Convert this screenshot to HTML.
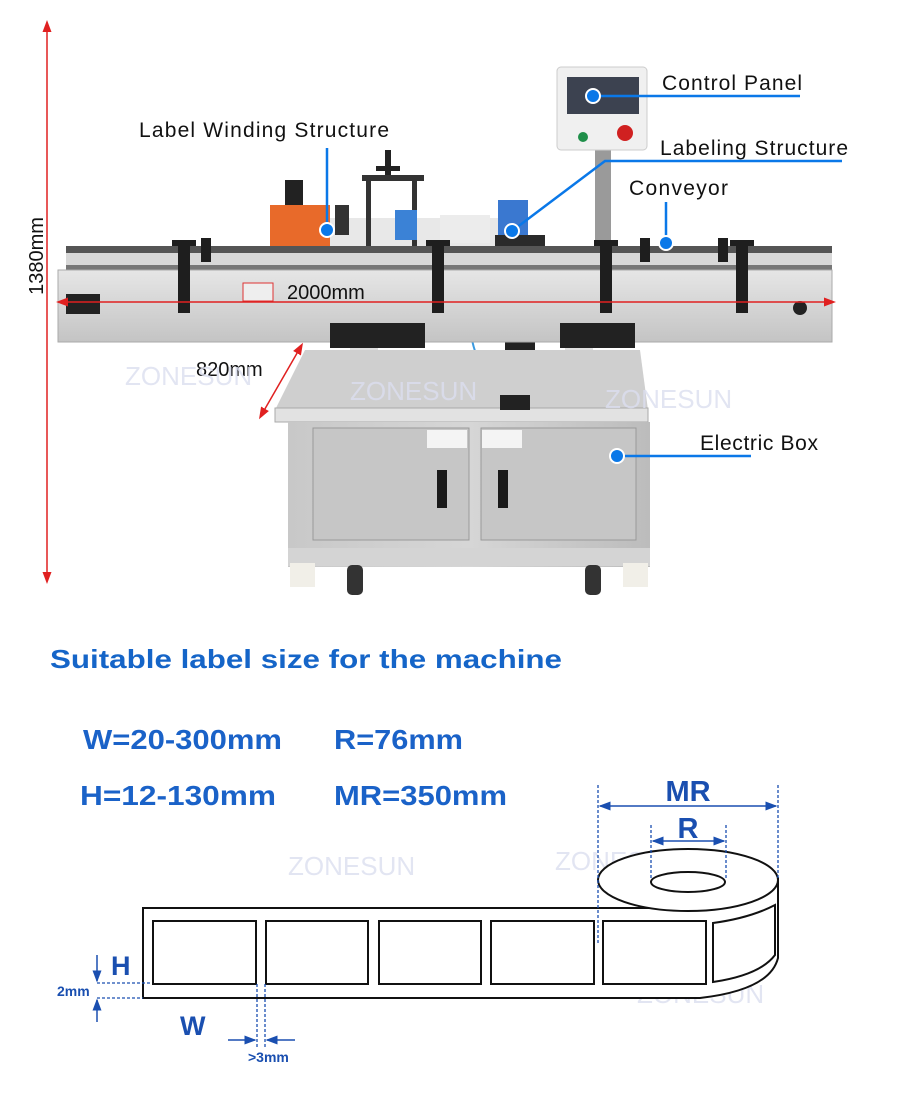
<!DOCTYPE html>
<html><head><meta charset="utf-8"><style>
html,body{margin:0;padding:0;background:#fff;}
svg{display:block;}
text{font-family:"Liberation Sans",sans-serif;}
</style></head><body>
<svg width="900" height="1093" viewBox="0 0 900 1093" xmlns="http://www.w3.org/2000/svg">
<defs>
<linearGradient id="steel" x1="0" y1="0" x2="0" y2="1"><stop offset="0" stop-color="#e6e6e6"/><stop offset="1" stop-color="#c4c4c4"/></linearGradient>
<linearGradient id="cab" x1="0" y1="0" x2="1" y2="0"><stop offset="0" stop-color="#c8c8c8"/><stop offset="0.5" stop-color="#d6d6d6"/><stop offset="1" stop-color="#bcbcbc"/></linearGradient>
<marker id="ra" markerWidth="8" markerHeight="8" refX="4" refY="4" orient="auto-start-reverse"><path d="M0,1 L8,4 L0,7Z" fill="#e02020"/></marker>
<marker id="ba" markerWidth="8" markerHeight="8" refX="7" refY="4" orient="auto-start-reverse"><path d="M0,1 L8,4 L0,7Z" fill="#1a4fb0"/></marker>
</defs>

<!-- winding structure -->
<rect x="270" y="205" width="60" height="42" fill="#e86a2a"/>
<rect x="285" y="180" width="18" height="25" fill="#222"/>
<rect x="330" y="218" width="170" height="30" fill="#e8e8e8"/>
<rect x="362" y="175" width="62" height="6" fill="#333"/>
<rect x="366" y="180" width="5" height="70" fill="#333"/>
<rect x="412" y="180" width="5" height="70" fill="#333"/>
<rect x="385" y="150" width="6" height="25" fill="#222"/>
<rect x="376" y="166" width="24" height="5" fill="#222"/>
<rect x="395" y="210" width="22" height="30" fill="#3b82d6"/>
<rect x="335" y="205" width="14" height="30" fill="#333"/>
<rect x="440" y="215" width="50" height="28" fill="#ececec"/>
<!-- labeling head -->
<rect x="498" y="200" width="30" height="35" fill="#3a78d0"/>
<rect x="495" y="235" width="50" height="60" fill="#2a2a2a"/>
<rect x="502" y="248" width="30" height="16" fill="#ddd"/>
<rect x="520" y="290" width="10" height="130" fill="#333"/>
<circle cx="545" cy="322" r="15" fill="#222"/><circle cx="545" cy="322" r="6" fill="#ccc"/>
<rect x="505" y="330" width="30" height="35" fill="#222"/>
<path d="M510 250 Q460 270 470 330 Q480 390 520 395" stroke="#3a9ae0" stroke-width="2" fill="none"/>
<!-- control panel -->
<rect x="595" y="148" width="16" height="105" fill="#9a9a9a"/>
<rect x="557" y="67" width="90" height="83" rx="4" fill="#f0f0f0" stroke="#ccc"/>
<rect x="567" y="77" width="72" height="37" fill="#3c4250"/>
<circle cx="583" cy="137" r="5" fill="#1f8f4a"/><circle cx="625" cy="133" r="8" fill="#d02020"/>
<!-- rails -->
<rect x="66" y="246" width="766" height="7" fill="#555"/>
<rect x="66" y="253" width="766" height="12" fill="#d8d8d8"/>
<rect x="66" y="265" width="766" height="6" fill="#777"/>
<!-- conveyor body -->
<rect x="58" y="270" width="774" height="72" fill="url(#steel)" stroke="#aaa"/>
<rect x="66" y="294" width="34" height="20" fill="#222"/>
<circle cx="800" cy="308" r="7" fill="#222"/>
<rect x="243" y="283" width="30" height="18" fill="#eee" stroke="#d33"/>
<!-- brackets -->
<g fill="#1e1e1e">
<rect x="178" y="245" width="12" height="68"/><rect x="172" y="240" width="24" height="6"/>
<rect x="432" y="245" width="12" height="68"/><rect x="426" y="240" width="24" height="6"/>
<rect x="600" y="245" width="12" height="68"/><rect x="594" y="240" width="24" height="6"/>
<rect x="736" y="245" width="12" height="68"/><rect x="730" y="240" width="24" height="6"/>
<rect x="201" y="238" width="10" height="24"/><rect x="718" y="238" width="10" height="24"/>
<rect x="640" y="238" width="10" height="24"/>
</g>
<!-- supports -->
<rect x="330" y="323" width="95" height="25" fill="#222"/>
<rect x="560" y="323" width="75" height="25" fill="#222"/>
<rect x="350" y="348" width="28" height="45" fill="#e0e0e0"/>
<rect x="565" y="348" width="28" height="45" fill="#e0e0e0"/>
<!-- table top -->
<path d="M305 350 L640 350 L648 410 L275 410 Z" fill="#cfcfcf"/>
<rect x="275" y="408" width="373" height="14" fill="#e2e2e2" stroke="#aaa"/>
<rect x="500" y="395" width="30" height="15" fill="#222"/>
<!-- cabinet -->
<rect x="288" y="422" width="362" height="145" fill="url(#cab)"/>
<rect x="313" y="428" width="156" height="112" fill="#c6c6c6" stroke="#999"/>
<rect x="481" y="428" width="155" height="112" fill="#c6c6c6" stroke="#999"/>
<rect x="437" y="470" width="10" height="38" fill="#1a1a1a"/>
<rect x="498" y="470" width="10" height="38" fill="#1a1a1a"/>
<rect x="427" y="430" width="40" height="18" fill="#f4f4f4"/>
<rect x="482" y="430" width="40" height="18" fill="#f4f4f4"/>
<rect x="288" y="548" width="362" height="18" fill="#d4d4d4"/>
<rect x="290" y="563" width="25" height="24" fill="#f1efe8"/><rect x="623" y="563" width="25" height="24" fill="#f1efe8"/>
<rect x="347" y="565" width="16" height="30" rx="5" fill="#333"/><rect x="585" y="565" width="16" height="30" rx="5" fill="#333"/>

<!-- dimension arrows -->
<line x1="47" y1="26" x2="47" y2="578" stroke="#e02020" stroke-width="1.5" marker-start="url(#ra)" marker-end="url(#ra)"/>
<line x1="62" y1="302" x2="830" y2="302" stroke="#e02020" stroke-width="1.5" marker-start="url(#ra)" marker-end="url(#ra)"/>
<line x1="262" y1="414" x2="300" y2="348" stroke="#e02020" stroke-width="1.5" marker-start="url(#ra)" marker-end="url(#ra)"/>
<text x="287" y="299" font-size="20" fill="#111">2000mm</text>
<text x="196" y="376" font-size="20" fill="#111">820mm</text>
<text transform="translate(43,256) rotate(-90)" text-anchor="middle" font-size="20" fill="#111">1380mm</text>

<!-- watermarks -->
<g font-size="26" fill="#dcdff0" opacity="0.8">
<text x="125" y="385">ZONESUN</text><text x="350" y="400">ZONESUN</text><text x="605" y="408">ZONESUN</text>
<text x="288" y="875">ZONESUN</text><text x="555" y="870">ZONESUN</text><text x="165" y="980">ZONESUN</text>
<text x="400" y="995">ZONESUN</text><text x="637" y="1003">ZONESUN</text>
</g>

<!-- callouts -->
<g stroke="#0a78e8" stroke-width="2.5" fill="none">
<line x1="593" y1="96" x2="800" y2="96"/>
<line x1="327" y1="230" x2="327" y2="148"/>
<polyline points="512,231 605,161 842,161"/>
<line x1="666" y1="243" x2="666" y2="202"/>
<line x1="617" y1="456" x2="751" y2="456"/>
</g>
<g fill="#0a78e8" stroke="#fff" stroke-width="2">
<circle cx="593" cy="96" r="7"/><circle cx="327" cy="230" r="7"/><circle cx="512" cy="231" r="7"/><circle cx="666" cy="243" r="7"/><circle cx="617" cy="456" r="7"/>
</g>
<g font-size="21" fill="#111">
<text x="662" y="90" textLength="140">Control Panel</text>
<text x="139" y="137" textLength="250">Label Winding Structure</text>
<text x="660" y="155" textLength="188">Labeling Structure</text>
<text x="629" y="195" textLength="99">Conveyor</text>
<text x="700" y="450" textLength="118">Electric Box</text>
</g>

<!-- bottom section -->
<text x="50" y="668" font-size="26" font-weight="bold" fill="#1565c8" textLength="512" lengthAdjust="spacingAndGlyphs">Suitable label size for the machine</text>
<g font-size="28" font-weight="bold" fill="#1a62c8">
<text x="83" y="749" textLength="199" lengthAdjust="spacingAndGlyphs">W=20-300mm</text><text x="334" y="749" textLength="129" lengthAdjust="spacingAndGlyphs">R=76mm</text>
<text x="80" y="805" textLength="196" lengthAdjust="spacingAndGlyphs">H=12-130mm</text><text x="334" y="805" textLength="173" lengthAdjust="spacingAndGlyphs">MR=350mm</text>
</g>

<!-- roll -->
<g stroke="#111" stroke-width="2" fill="#fff">
<path d="M143 908 L700 908 Q760 905 778 880 L778 958 Q770 990 700 998 L143 998 Z"/>
<ellipse cx="688" cy="880" rx="90" ry="31"/>
<ellipse cx="688" cy="882" rx="37" ry="10"/>
<rect x="153" y="921" width="103" height="63"/>
<rect x="266" y="921" width="102" height="63"/>
<rect x="379" y="921" width="102" height="63"/>
<rect x="491" y="921" width="103" height="63"/>
<rect x="603" y="921" width="103" height="63"/>
<path d="M713 923 Q750 918 775 905 L775 955 Q760 975 713 982 Z"/>
</g>
<!-- dims -->
<g stroke="#1a4fb0" stroke-width="1.3" stroke-dasharray="3,2" fill="none">
<line x1="598" y1="785" x2="598" y2="945"/><line x1="778" y1="785" x2="778" y2="880"/>
<line x1="651" y1="825" x2="651" y2="880"/><line x1="726" y1="825" x2="726" y2="880"/>
<line x1="97" y1="983" x2="150" y2="983"/><line x1="97" y1="998" x2="143" y2="998"/>
<line x1="257" y1="984" x2="257" y2="1047"/><line x1="265" y1="984" x2="265" y2="1047"/>
</g>
<g stroke="#1a4fb0" stroke-width="1.5">
<line x1="600" y1="806" x2="776" y2="806" marker-start="url(#ba)" marker-end="url(#ba)"/>
<line x1="653" y1="841" x2="724" y2="841" marker-start="url(#ba)" marker-end="url(#ba)"/>
<line x1="97" y1="955" x2="97" y2="981" marker-end="url(#ba)"/>
<line x1="97" y1="1022" x2="97" y2="1000" marker-end="url(#ba)"/>
<line x1="228" y1="1040" x2="255" y2="1040" marker-end="url(#ba)"/>
<line x1="295" y1="1040" x2="267" y2="1040" marker-end="url(#ba)"/>
</g>
<g font-weight="bold" fill="#1a4fb0">
<text x="688" y="801" font-size="29" text-anchor="middle">MR</text>
<text x="688" y="838" font-size="29" text-anchor="middle">R</text>
<text x="111" y="975" font-size="27">H</text>
<text x="57" y="996" font-size="14">2mm</text>
<text x="180" y="1035" font-size="27">W</text>
<text x="248" y="1062" font-size="14">&gt;3mm</text>
</g>
</svg>
</body></html>
